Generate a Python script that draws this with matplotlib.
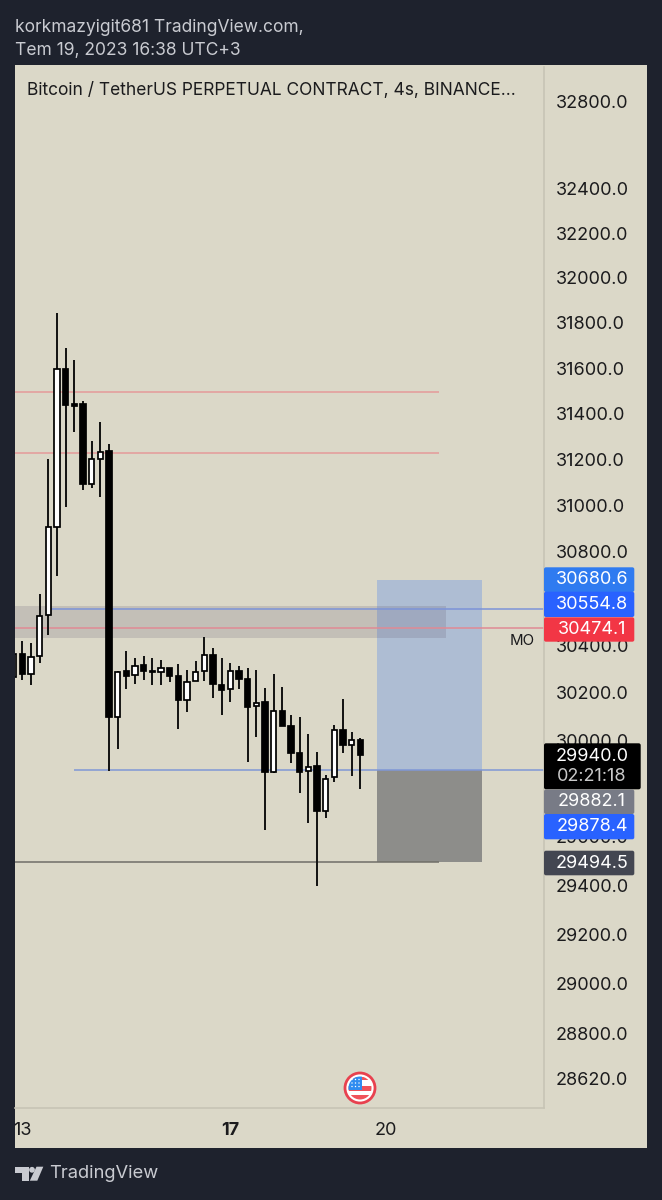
import matplotlib
matplotlib.use("Agg")
import matplotlib.pyplot as plt
from matplotlib.patches import Rectangle, Polygon, Circle, FancyBboxPatch
from matplotlib.ticker import FixedLocator, FixedFormatter, NullLocator

plt.rcParams['font.family'] = ['Inter', 'DejaVu Sans']

# ---------- data (4h candles, index 0 = 13 Jul 00:00) ----------
index = list(range(-1, 40))
opens = [30268, 30365, 30282, 30355, 30532, 30909, 31596, 31442, 31442, 31095, 31203,
         31235, 30098, 30291, 30276, 30316, 30293, 30289, 30306, 30273, 30172, 30249,
         30291, 30362, 30235, 30217, 30291, 30261, 30144, 30160, 29868, 30123, 30063,
         29949, 29871, 29892, 29707, 29846, 30045, 29983, 30001]
highs = [30383, 30418, 30412, 30622, 31202, 31843, 31688, 31634, 31454, 31282, 31362,
         31269, 30294, 30379, 30348, 30358, 30346, 30338, 30306, 30323, 30299, 30337,
         30437, 30388, 30348, 30327, 30313, 30306, 30296, 30221, 30280, 30226, 30109,
         30098, 30028, 29953, 29857, 30066, 30175, 30035, 30011]
lows = [30256, 30256, 30232, 30327, 30447, 30698, 30994, 31320, 31069, 31075, 31036,
        29875, 29965, 30218, 30239, 30256, 30235, 30235, 30248, 30049, 30119, 30249,
        30252, 30179, 30109, 30160, 30218, 29909, 30014, 29630, 29864, 30060, 29907,
        29782, 29656, 29399, 29677, 29826, 29949, 29851, 29800]
closes = [30365, 30282, 30351, 30525, 30909, 31596, 31438, 31435, 31095, 31202, 31231,
          30098, 30289, 30273, 30313, 30293, 30289, 30306, 30273, 30172, 30248, 30289,
          30362, 30238, 30214, 30291, 30261, 30141, 30158, 29868, 30123, 30060, 29949,
          29869, 29890, 29707, 29840, 30043, 29982, 30001, 29940]

price_ticks = [32800, 32400, 32200, 32000, 31800, 31600, 31400, 31200, 31000, 30800,
               30400, 30200, 30000, 29600, 29400, 29200, 29000, 28800, 28620]
day_positions = [0, 24, 42]
day_labels = ['13', '17', '20']

resistance_levels = [31496, 31230]
zone_low, zone_high = 30434, 30570
target_price = 30680.6
line_blue_upper = 30554.8
line_red = 30474.1
entry_price = 29878.4
stop_price = 29494.5
last_price = 29940.0
mid_price = 29882.1
countdown = '02:21:18'

# ---------- styles ----------
BG = '#DBD8C8'
DARK = '#1E222D'
INK = '#1B1B1D'
W, H = 662, 1200
LEFT, RIGHT, TOP, BOTTOM = 15, 544, 67, 1108
XMIN, XMAX = -0.842, 60.2
YMIN, YMAX = 28501, 32956
XEND_SHORT = 48.05
XEND_ZONE = 48.9
BOX_X0, BOX_X1 = 40.93, 53.08
FS = 13.0

fig = plt.figure(figsize=(W / 100, H / 100), dpi=100, facecolor=DARK)

# pixel-space layers
bg = fig.add_axes([0, 0, 1, 1], zorder=0)
bg.set_xlim(0, W); bg.set_ylim(H, 0); bg.axis('off')
bg.add_patch(Rectangle((15, 65), 632, 1083, fc=BG, ec='none'))

ax = fig.add_axes([LEFT / W, 1 - BOTTOM / H, (RIGHT - LEFT) / W, (BOTTOM - TOP) / H], zorder=1)
ax.set_facecolor('none')
ax.set_yscale('log')
ax.set_xlim(XMIN, XMAX)
ax.set_ylim(YMIN, YMAX)

for s in ['top', 'left']:
    ax.spines[s].set_visible(False)
ax.spines['right'].set_color('#C7C4B5'); ax.spines['right'].set_linewidth(1.2)
ax.spines['bottom'].set_color('#C7C4B5'); ax.spines['bottom'].set_linewidth(1.2)

ax.yaxis.tick_right()
ax.yaxis.set_major_locator(FixedLocator(price_ticks))
ax.yaxis.set_major_formatter(FixedFormatter([f'{p:.1f}' for p in price_ticks]))
ax.yaxis.set_minor_locator(NullLocator())
ax.tick_params(axis='y', length=0, pad=8.6, labelsize=FS, labelcolor=INK)
ax.set_xticks(day_positions)
ax.set_xticklabels(day_labels)
ax.tick_params(axis='x', length=0, pad=10, labelsize=FS, labelcolor=INK)
ax.get_xticklabels()[1].set_fontweight('bold')

# zones and position box
ax.add_patch(Rectangle((BOX_X0, entry_price), BOX_X1 - BOX_X0, target_price - entry_price,
                       fc='#83A4DE', alpha=0.5, ec='none', zorder=1))
ax.add_patch(Rectangle((BOX_X0, stop_price), BOX_X1 - BOX_X0, entry_price - stop_price,
                       fc='#474951', alpha=0.52, ec='none', zorder=1))
ax.add_patch(Rectangle((XMIN, zone_low), XEND_ZONE - XMIN, zone_high - zone_low,
                       fc='#635B73', alpha=0.2, ec='none', zorder=1.2))

# levels
for lvl in resistance_levels:
    ax.hlines(lvl, XMIN, XEND_SHORT, color='#E59A9A', lw=1.1, zorder=1.5)
ax.hlines(stop_price, XMIN, XEND_SHORT, color='#6F6E68', lw=1.1, zorder=1.5)
ax.hlines(line_blue_upper, 3, XMAX, color='#7C93D8', lw=1.1, zorder=1.5)
ax.hlines(line_red, XMIN, XMAX, color='#E08A94', lw=1.1, zorder=1.5)
ax.hlines(entry_price, 6, XMAX, color='#7F97D6', lw=1.1, zorder=1.5)

# candles
for i, o, h, l, c in zip(index, opens, highs, lows, closes):
    ax.vlines(i, l, h, color='#111111', lw=1.4, zorder=2)
    up = c >= o
    ax.bar(i, abs(c - o), bottom=min(o, c), width=0.62,
           fc='white' if up else 'black', ec='black', lw=1.25, zorder=2.2)

# overlay
ov = fig.add_axes([0, 0, 1, 1], zorder=5)
ov.set_xlim(0, W); ov.set_ylim(H, 0); ov.axis('off'); ov.patch.set_alpha(0)

ov.text(15, 27, 'korkmazyigit681 TradingView.com,', color='#C9CBD1', fontsize=12.55, va='center')
ov.text(15, 51, 'Tem 19, 2023 16:38 UTC+3', color='#C9CBD1', fontsize=12.55, va='center')
ov.text(27, 91, 'Bitcoin / TetherUS PERPETUAL CONTRACT, 4s, BINANCE...', color=INK, fontsize=12.5, va='center')
ov.text(522, 641, 'MO', color=INK, fontsize=10.8, va='center', ha='center')
ov.text(49, 1173, 'TradingView', color='#C9CBD1', fontsize=13.2, va='center')


def tag(y0, y1, x1, color, lines):
    ov.add_patch(FancyBboxPatch((544, y0), x1 - 544, y1 - y0, boxstyle='round,pad=0,rounding_size=2',
                                fc=color, ec='none'))
    for yc, txt, col in lines:
        ov.text(592, yc, txt, color=col, fontsize=FS, va='center', ha='center')


tag(567.3, 592, 634.3, '#2F7BF0', [(579.5, f'{target_price:.1f}', 'white')])
tag(591.7, 617, 634.3, '#2962FF', [(604.3, f'{line_blue_upper:.1f}', 'white')])
tag(617.3, 641.7, 634.3, '#F23645', [(629.5, f'{line_red:.1f}', 'white')])
tag(743.3, 789.3, 640.7, '#000000', [(756.7, f'{last_price:.1f}', 'white'), (776.7, countdown, '#C9C9C9')])
tag(789.5, 814, 634.3, '#787B86', [(801.7, f'{mid_price:.1f}', 'white')])
tag(814, 839.3, 634.3, '#2962FF', [(826.7, f'{entry_price:.1f}', 'white')])
tag(850.7, 875.3, 634.3, '#434651', [(863, f'{stop_price:.1f}', 'white')])

# US flag event marker
cx, cy = 360, 1088
ov.add_patch(Circle((cx, cy), 15, fc='white', ec='#E8414F', lw=2.0, zorder=3))
clip = Circle((cx, cy), 11.5, transform=ov.transData)
for rect in [Rectangle((cx - 12, 1077), 24, 3, fc='#F0525A', ec='none', zorder=3.1),
             Rectangle((cx - 12, 1086), 24, 5, fc='#F0525A', ec='none', zorder=3.1),
             Rectangle((cx - 12, 1095), 24, 6, fc='#F0525A', ec='none', zorder=3.1),
             Rectangle((cx - 12, 1076), 14, 14, fc='#2F8CF0', ec='none', zorder=3.2)]:
    ov.add_patch(rect)
    rect.set_clip_path(clip)
for dx in (-8, -4.5, -1):
    for dy in (-8.5, -5, -1.5):
        ov.add_patch(Circle((cx + dx, cy + dy), 0.7, fc='white', ec='none', zorder=3.3))

# TradingView logo
LOGO = '#C9CBD1'
ov.add_patch(Polygon([(15, 1166.7), (29, 1166.7), (29, 1180.7), (21.5, 1180.7), (21.5, 1173), (15, 1173)],
                     fc=LOGO, ec='none'))
ov.add_patch(Circle((32, 1169.8), 2.9, fc=LOGO, ec='none'))
ov.add_patch(Polygon([(36.5, 1166.7), (43.3, 1166.7), (37.3, 1180.7), (29.8, 1180.7)], fc=LOGO, ec='none'))

fig.savefig('out.png', dpi=100, facecolor=fig.get_facecolor())
